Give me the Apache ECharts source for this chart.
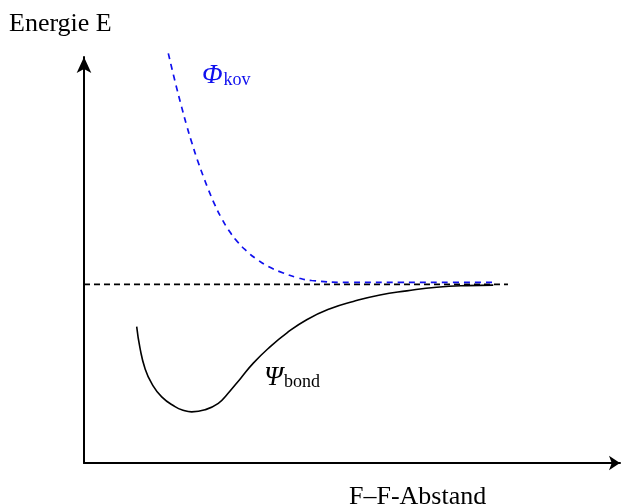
<!DOCTYPE html>
<html>
<head>
<meta charset="utf-8">
<title>Energie E – F–F-Abstand</title>
<script src="https://cdn.jsdelivr.net/npm/echarts@6/dist/echarts.min.js"></script>
<style>
  html, body { margin: 0; padding: 0; background: #fff; }
  #chart { width: 626px; height: 504px; }
</style>
</head>
<body>
<div id="chart"></div>
<script>
// Potential curves along the F–F distance (arbitrary units, 0–100 on both axes)
const covalentX = [15.73, 16.98, 18.23, 19.16, 20.09, 21.32, 22.26, 23.19, 24.44, 25.69, 26.92,
                   28.49, 30.35, 32.22, 34.39, 37.18, 39.68, 42.48, 49.63, 58.96, 68.28, 77.05];
const covalentY = [100.9, 94.0, 87.6, 83.1, 79.0, 74.0, 70.6, 67.4, 63.5, 60.2, 57.5,
                   54.7, 52.2, 50.2, 48.4, 46.8, 45.7, 44.95, 44.5, 44.5, 44.5, 44.5];

const bondX = [9.83, 10.45, 11.38, 12.63, 14.50, 16.98, 18.50, 20.09, 22.57, 25.06, 26.77, 29.25,
               31.59, 34.70, 37.82, 41.55, 45.90, 50.24, 55.22, 60.21, 65.80, 71.40, 76.36];
const bondY = [33.6, 28.3, 23.3, 19.6, 16.3, 13.9, 13.0, 12.6, 13.1, 14.7, 17.0, 20.9,
               24.6, 28.6, 32.0, 35.3, 38.0, 39.8, 41.4, 42.4, 43.3, 43.7, 43.8];

// Energy of the separated atoms (reference level)
const limitX = [0, 79.1];
const limitY = [44.0, 44.0];

const axisTitleY = 'Energie E';
const axisTitleX = 'F–F-Abstand';

const pairs = (xs, ys) => xs.map((x, i) => [x, ys[i]]);
const serif = '"Liberation Serif", "DejaVu Serif", serif';

const chart = echarts.init(document.getElementById('chart'), null, { renderer: 'canvas' });

chart.setOption({
  animation: false,
  backgroundColor: '#ffffff',
  grid: { left: 84, right: 6, top: 57, bottom: 41 },
  xAxis: {
    type: 'value', min: 0, max: 100,
    axisLine: {
      show: true, onZero: false,
      symbol: ['none', 'arrow'], symbolSize: [11, 11],
      lineStyle: { color: '#000', width: 2 }
    },
    axisTick: { show: false }, axisLabel: { show: false }, splitLine: { show: false }
  },
  yAxis: {
    type: 'value', min: 0, max: 100,
    axisLine: {
      show: true, onZero: false,
      symbol: ['none', 'arrow'], symbolSize: [11, 16],
      lineStyle: { color: '#000', width: 2 }
    },
    axisTick: { show: false }, axisLabel: { show: false }, splitLine: { show: false }
  },
  series: [
    {
      type: 'line', data: pairs(limitX, limitY), showSymbol: false, clip: false,
      lineStyle: { color: '#000', width: 1.6, type: [6, 4] }
    },
    {
      type: 'line', data: pairs(covalentX, covalentY), smooth: 0.5,
      showSymbol: false, clip: false,
      lineStyle: { color: '#1010ee', width: 1.7, type: [6, 5] }
    },
    {
      type: 'line', data: pairs(bondX, bondY), smooth: 0.5, showSymbol: false, clip: false,
      lineStyle: { color: '#000', width: 1.6 }
    }
  ],
  graphic: [
    {
      type: 'text', left: 9, top: 11,
      style: { text: axisTitleY, font: '26px ' + serif, fill: '#000' }
    },
    {
      type: 'text', left: 349, top: 484,
      style: { text: axisTitleX, font: '26px ' + serif, fill: '#000' }
    },
    {
      type: 'text', left: 202, top: 62,
      style: {
        text: '{a|Φ}{b|kov}',
        rich: {
          a: { font: 'italic 27px ' + serif, fill: '#1010ee', verticalAlign: 'bottom' },
          b: { font: '18px ' + serif, fill: '#1010ee', padding: [14, 0, 0, 1], verticalAlign: 'bottom' }
        }
      }
    },
    {
      type: 'text', left: 264, top: 364,
      style: {
        text: '{a|Ψ}{b|bond}',
        rich: {
          a: { font: 'italic 27px ' + serif, fill: '#000', verticalAlign: 'bottom' },
          b: { font: '18px ' + serif, fill: '#000', padding: [14, 0, 0, 1], verticalAlign: 'bottom' }
        }
      }
    }
  ]
});
</script>
</body>
</html>
